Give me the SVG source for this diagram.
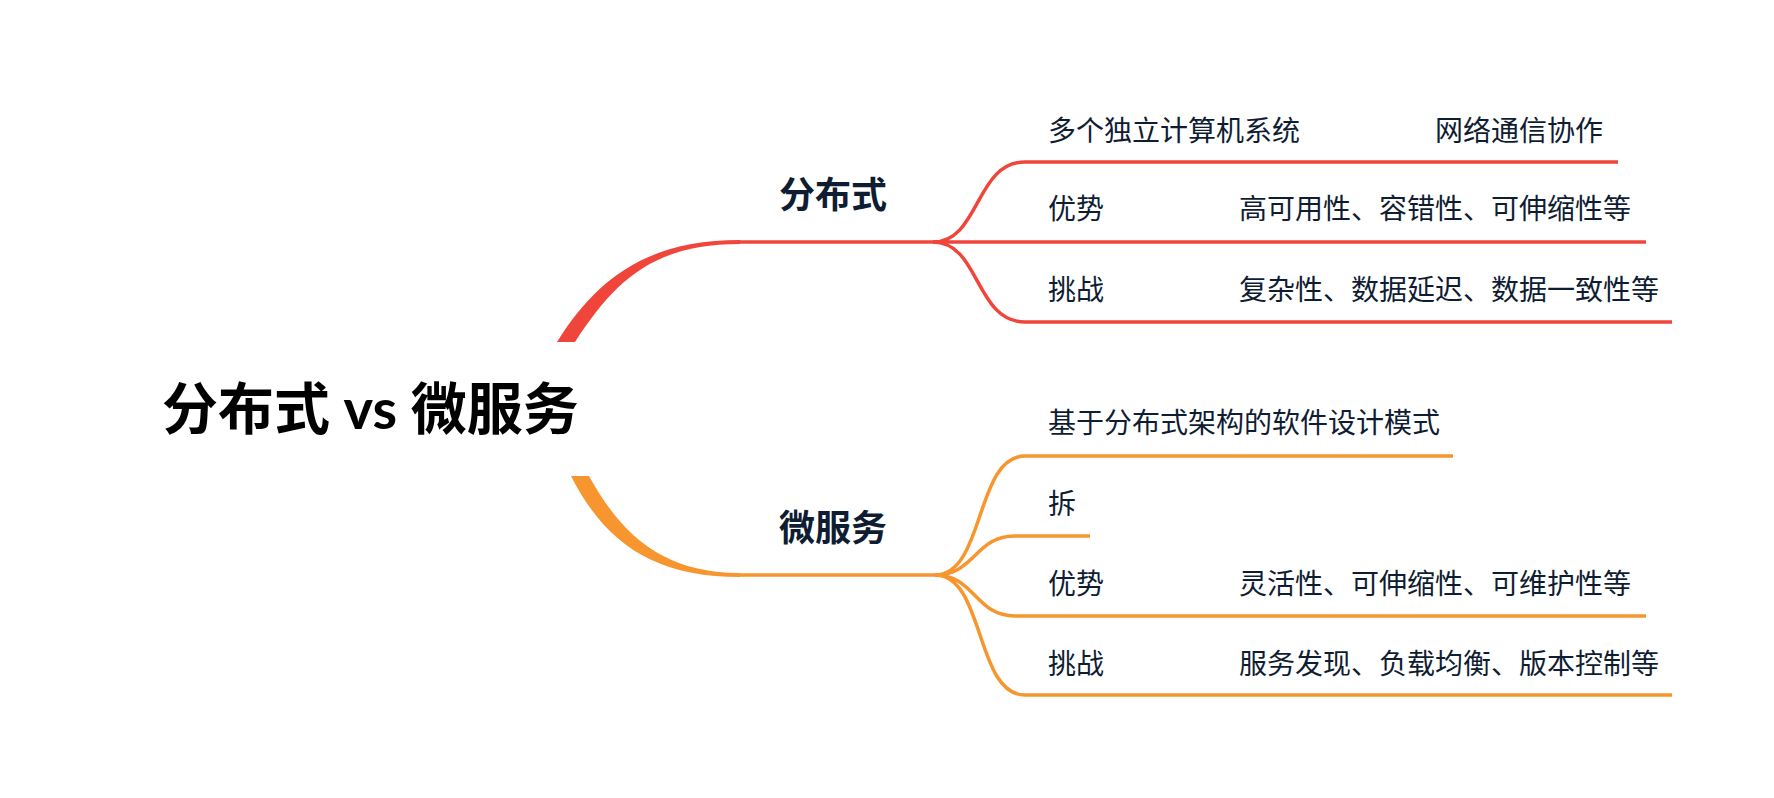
<svg xmlns="http://www.w3.org/2000/svg" width="1774" height="798" viewBox="0 0 1774 798">
<style>
.t{font-family:Lato,'Noto Sans CJK SC',sans-serif;fill:#0f1d33}
.s{font-size:28px}
.lbl{font-size:36px;font-weight:700}
.title{font-size:56px;font-weight:700;fill:#000}
.r{stroke:#f0453a;fill:none;stroke-width:3.5}
.o{stroke:#f7952f;fill:none;stroke-width:3.5}
.rf{fill:#f0453a}
.of{fill:#f7952f}
</style>
<rect width="1774" height="798" fill="#fff"/>
<g id="connectors">
  <path class="rf" d="M557,342 C597,278 648,240 740,240 L740,244 C652,244 614,282 575,342 Z"/>
  <path class="r" d="M738,242 H933" stroke-width="4"/>
  <path class="r" d="M933,242 C980,242 975,162 1025,162 H1618"/>
  <path class="r" d="M933,242 H1646"/>
  <path class="r" d="M933,242 C980,242 975,322 1025,322 H1672"/>
  <path class="of" d="M571,476 C606,545 656,577 740,577 L740,573 C664,573 622,536 589,476 Z"/>
  <path class="o" d="M738,575 H935" stroke-width="4"/>
  <path class="o" d="M935,575 C985,575 975,456 1025,456 H1453"/>
  <path class="o" d="M935,575 C975,575 975,536 1015,536 H1090"/>
  <path class="o" d="M935,575 C975,575 975,616 1015,616 H1646"/>
  <path class="o" d="M935,575 C985,575 975,695 1025,695 H1672"/>
</g>
<g id="root"><text class="t title" x="162" y="429">分布式 vs 微服务</text></g>
<g id="n-distributed"><text class="t lbl" x="779" y="208">分布式</text></g>
<g id="n-d1"><text class="t s" x="1048" y="141">多个独立计算机系统</text></g>
<g id="n-d1a"><text class="t s" x="1435" y="141">网络通信协作</text></g>
<g id="n-d2"><text class="t s" x="1048" y="219">优势</text></g>
<g id="n-d2a"><text class="t s" x="1239" y="219">高可用性、容错性、可伸缩性等</text></g>
<g id="n-d3"><text class="t s" x="1048" y="300">挑战</text></g>
<g id="n-d3a"><text class="t s" x="1239" y="300">复杂性、数据延迟、数据一致性等</text></g>
<g id="n-micro"><text class="t lbl" x="779" y="541">微服务</text></g>
<g id="n-m1"><text class="t s" x="1048" y="433">基于分布式架构的软件设计模式</text></g>
<g id="n-m2"><text class="t s" x="1048" y="514">拆</text></g>
<g id="n-m3"><text class="t s" x="1048" y="594">优势</text></g>
<g id="n-m3a"><text class="t s" x="1239" y="594">灵活性、可伸缩性、可维护性等</text></g>
<g id="n-m4"><text class="t s" x="1048" y="674">挑战</text></g>
<g id="n-m4a"><text class="t s" x="1239" y="674">服务发现、负载均衡、版本控制等</text></g>
</svg>
